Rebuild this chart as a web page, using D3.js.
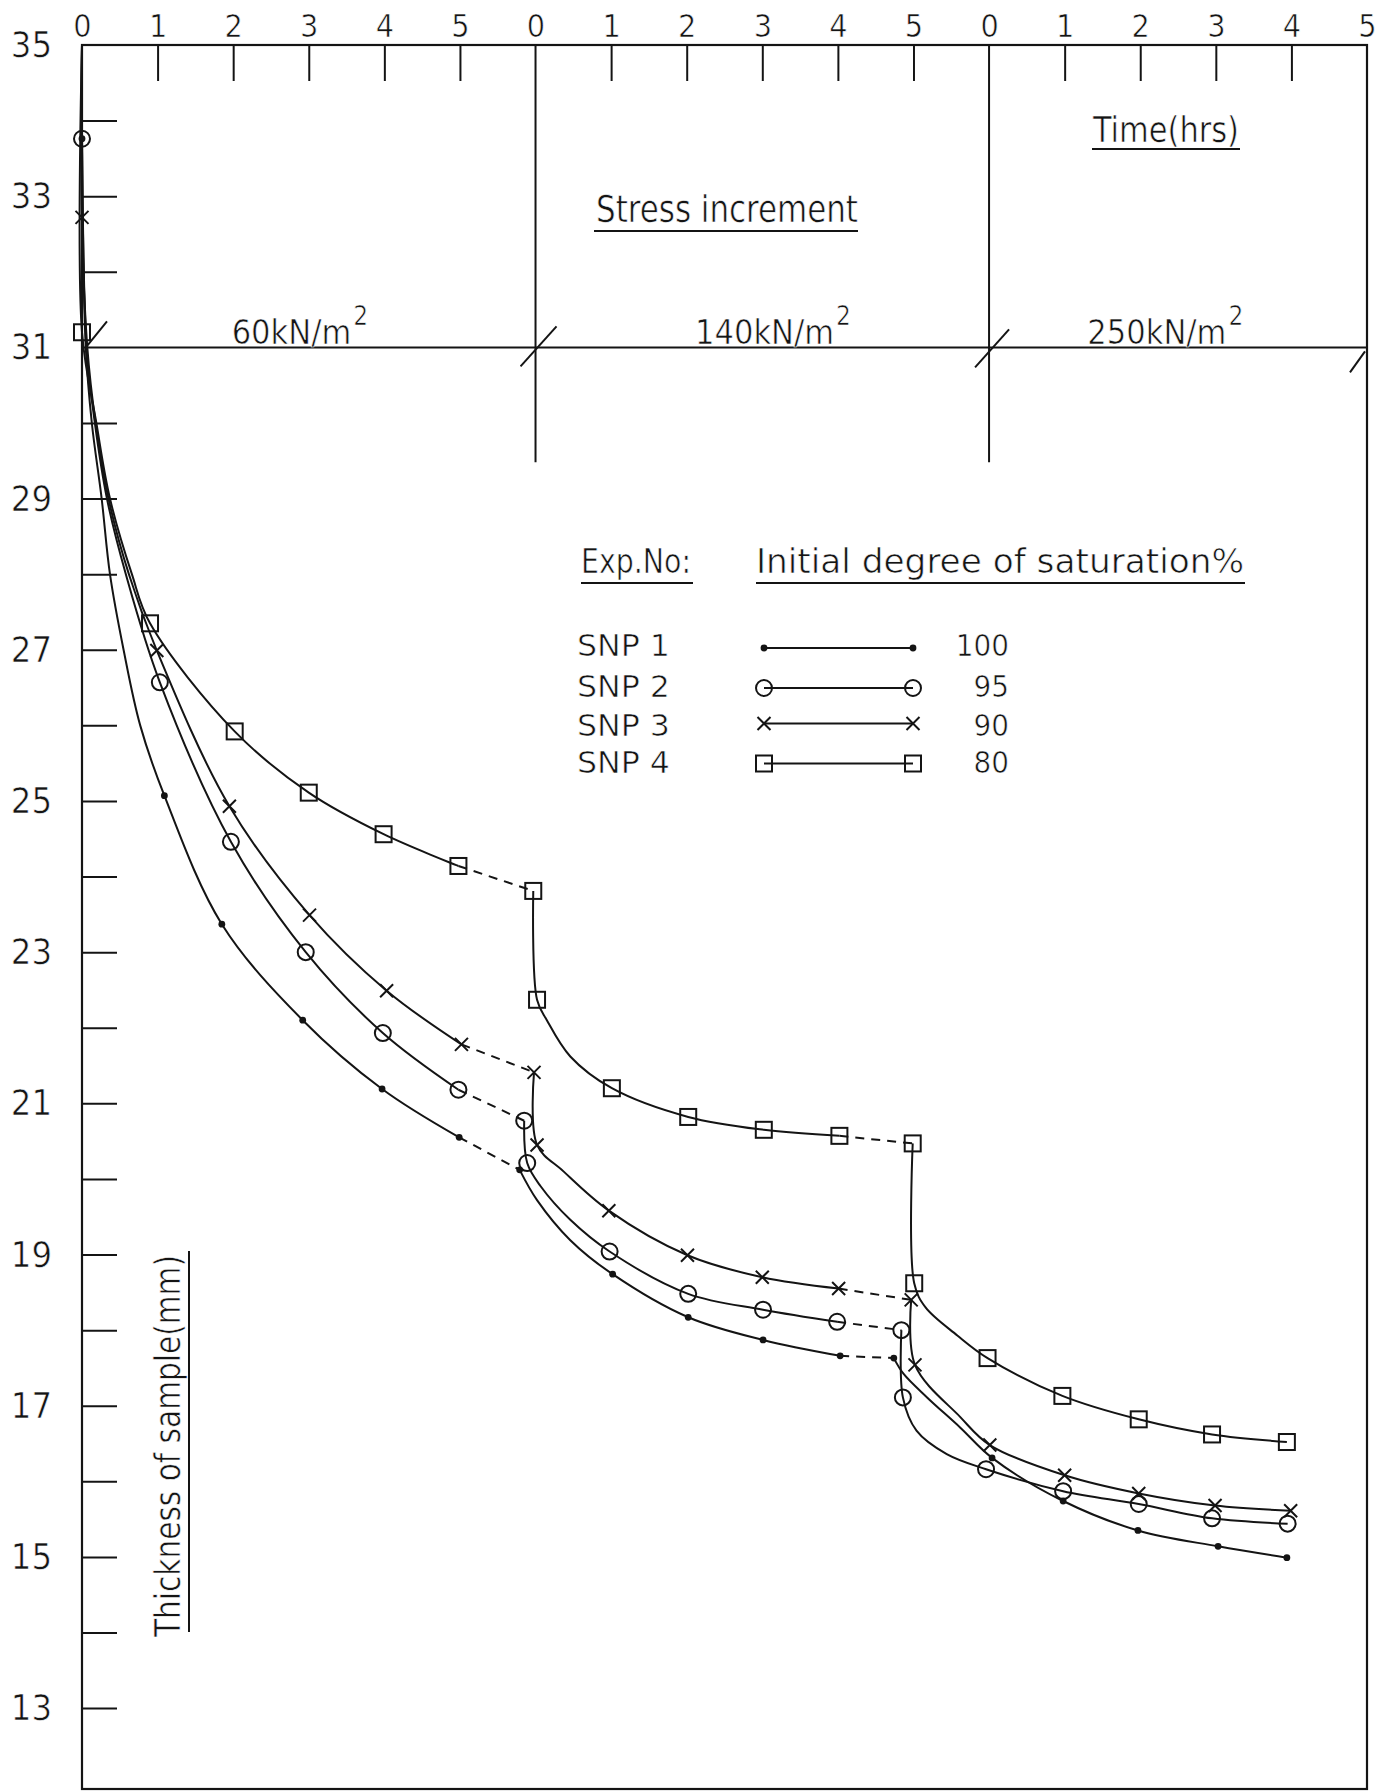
<!DOCTYPE html>
<html>
<head>
<meta charset="utf-8">
<script src="https://cdn.jsdelivr.net/npm/d3@7"></script>
<style>
  html, body { margin: 0; padding: 0; background: #ffffff; }
  svg { display: block; }
  text {
    font-family: "DejaVu Sans Condensed", "Liberation Sans Narrow", sans-serif;
    fill: #141414;
    stroke: #ffffff; stroke-width: 0.6px; paint-order: fill stroke;
  }
</style>
</head>
<body>
<svg id="chart" width="1390" height="1792"></svg>
<script>
// ---- Data -----------------------------------------------------------------

// Top axis: three 5-hour load stages laid end to end (chart position 0..17).
const hourLabels = ["0","1","2","3","4","5","0","1","2","3","4","5","0","1","2","3","4","5"];
const stageStarts = [0, 6, 12];
const stressIncrements = ["60", "140", "250"];

// Left axis: sample thickness (mm).
const thicknessLabels = [35, 33, 31, 29, 27, 25, 23, 21, 19, 17, 15, 13];
const thicknessTicks = d3.range(13, 36);

// Legend entries.
const experiments = ["SNP 1", "SNP 2", "SNP 3", "SNP 4"];
const saturation = [100, 95, 90, 80];
const markerShapes = ["dot", "circle", "cross", "square"];

// Readings: [chart position (hrs), thickness (mm), marker drawn 1/0, dashed from previous point 1/0]
const snp1 = [
  [0, 35, 0, 0], [0, 33.76, 1, 0], [0.05, 31.0, 0, 0], [0.13, 30.0, 0, 0], [0.26, 29.0, 0, 0],
  [0.37, 28.0, 0, 0], [0.55, 27.0, 0, 0], [0.77, 26.0, 0, 0], [1.09, 25.07, 1, 0],
  [1.85, 23.37, 1, 0], [2.92, 22.10, 1, 0], [3.97, 21.19, 1, 0], [4.99, 20.55, 1, 0],
  [5.79, 20.12, 1, 1], [6.02, 19.72, 0, 0], [6.46, 19.19, 0, 0], [7.02, 18.74, 1, 0],
  [8.02, 18.17, 1, 0], [9.01, 17.87, 1, 0], [10.03, 17.66, 1, 0],
  [10.74, 17.63, 1, 1], [10.87, 17.42, 0, 0], [11.18, 17.11, 0, 0], [11.62, 16.71, 0, 0],
  [12.04, 16.31, 1, 0], [12.98, 15.74, 1, 0], [13.97, 15.35, 1, 0], [15.03, 15.14, 1, 0],
  [15.94, 14.99, 1, 0]
];
const snp2 = [
  [0, 35, 0, 0], [0, 33.76, 1, 0], [0.06, 31.0, 0, 0], [0.17, 30.0, 0, 0], [0.33, 29.0, 0, 0],
  [0.58, 28.0, 0, 0], [1.03, 26.57, 1, 0], [1.97, 24.46, 1, 0], [2.96, 23.0, 1, 0],
  [3.98, 21.93, 1, 0], [4.98, 21.18, 1, 0],
  [5.85, 20.77, 1, 1], [5.89, 20.21, 1, 0], [6.07, 19.9, 0, 0], [6.46, 19.46, 0, 0],
  [6.98, 19.04, 1, 0], [8.02, 18.48, 1, 0], [9.01, 18.27, 1, 0], [9.99, 18.11, 1, 0],
  [10.84, 18.0, 1, 1], [10.86, 17.11, 1, 0], [11.04, 16.67, 0, 0], [11.44, 16.36, 0, 0],
  [11.96, 16.16, 1, 0], [12.98, 15.87, 1, 0], [13.98, 15.70, 1, 0], [14.95, 15.51, 1, 0],
  [15.95, 15.44, 1, 0]
];
const snp3 = [
  [0, 35, 0, 0], [0, 32.72, 1, 0], [0.07, 31.0, 0, 0], [0.18, 30.0, 0, 0], [0.35, 29.0, 0, 0],
  [0.62, 28.0, 0, 0], [0.99, 26.99, 1, 0], [1.95, 24.93, 1, 0], [3.01, 23.49, 1, 0],
  [4.03, 22.49, 1, 0], [5.02, 21.78, 1, 0],
  [5.98, 21.41, 1, 1], [6.02, 20.45, 1, 0], [6.37, 20.1, 0, 0], [6.97, 19.58, 1, 0],
  [8.01, 18.99, 1, 0], [9.0, 18.70, 1, 0], [10.01, 18.55, 1, 0],
  [10.97, 18.40, 1, 1], [11.02, 17.54, 1, 0], [11.62, 16.85, 0, 0], [12.01, 16.48, 1, 0],
  [13.0, 16.08, 1, 0], [13.98, 15.84, 1, 0], [14.99, 15.68, 1, 0], [15.99, 15.61, 1, 0]
];
const snp4 = [
  [0, 35, 0, 0], [0, 31.2, 1, 0], [0.19, 30.0, 0, 0], [0.37, 29.0, 0, 0], [0.66, 28.0, 0, 0],
  [0.90, 27.35, 1, 0], [2.02, 25.92, 1, 0], [3.0, 25.11, 1, 0], [3.99, 24.56, 1, 0],
  [4.98, 24.14, 1, 0],
  [5.97, 23.81, 1, 1], [6.02, 22.37, 1, 0], [6.15, 22.1, 0, 0], [6.46, 21.62, 0, 0],
  [7.01, 21.2, 1, 0], [8.02, 20.82, 1, 0], [9.02, 20.65, 1, 0], [10.02, 20.57, 1, 0],
  [10.99, 20.47, 1, 1], [11.01, 18.62, 1, 0], [11.16, 18.30, 0, 0], [11.58, 17.93, 0, 0],
  [11.98, 17.63, 1, 0], [12.97, 17.13, 1, 0], [13.98, 16.82, 1, 0], [14.95, 16.62, 1, 0],
  [15.94, 16.52, 1, 0]
];
const seriesList = [snp1, snp2, snp3, snp4];

// ---- Layout ---------------------------------------------------------------
const INK = "#141414";
const svg = d3.select("#chart");
svg.append("rect").attr("width", 1390).attr("height", 1792).attr("fill", "#ffffff");

const x = d3.scaleLinear().domain([0, 17]).range([82, 1367]);
const y = d3.scaleLinear().domain([35, 11.93]).range([45, 1789]);

// Frame
svg.append("rect")
  .attr("x", x(0)).attr("y", y(35))
  .attr("width", x(17) - x(0)).attr("height", y(11.93) - y(35))
  .attr("fill", "none").attr("stroke", INK).attr("stroke-width", 2.2);

// Stage reference line at 31 mm and stage dividers
svg.append("line")
  .attr("x1", x(0)).attr("x2", x(17)).attr("y1", y(31)).attr("y2", y(31))
  .attr("stroke", INK).attr("stroke-width", 2);
stageStarts.slice(1).forEach(s => {
  svg.append("line")
    .attr("x1", x(s)).attr("x2", x(s)).attr("y1", y(35)).attr("y2", y(29.48))
    .attr("stroke", INK).attr("stroke-width", 2);
});

// Small slash marks where each stage boundary meets the 31 mm line
const slashes = [
  { at: 0,  d: [[3, 1], [25, -26]] },
  { at: 6,  d: [[-15, 19], [21, -21]] },
  { at: 12, d: [[-14, 20], [20, -18]] },
  { at: 17, d: [[-17, 25], [-2, 4]] }
];
slashes.forEach(s => {
  const cx = x(s.at), cy = y(31);
  svg.append("line")
    .attr("x1", cx + s.d[0][0]).attr("y1", cy + s.d[0][1])
    .attr("x2", cx + s.d[1][0]).attr("y2", cy + s.d[1][1])
    .attr("stroke", INK).attr("stroke-width", 2);
});

// Top time axis (ticks hang inside the frame)
const topAxis = svg.append("g")
  .attr("transform", `translate(0,${y(35)})`)
  .call(d3.axisTop(x).tickValues(d3.range(0, 18)).tickFormat(i => hourLabels[i])
    .tickSize(-36).tickPadding(8));
topAxis.attr("font-family", null).attr("font-size", null).style("color", INK);
topAxis.select(".domain").remove();
topAxis.selectAll(".tick line").filter(d => stageStarts.includes(d) || d === 17).remove();
topAxis.selectAll(".tick line").attr("stroke-width", 2);
topAxis.selectAll(".tick text").style("font-size", "32px");

// Left thickness axis (ticks point into the frame)
const leftAxis = svg.append("g")
  .attr("transform", `translate(${x(0)},0)`)
  .call(d3.axisLeft(y).tickValues(thicknessTicks)
    .tickFormat(v => thicknessLabels.includes(v) ? v : "")
    .tickSize(-35).tickPadding(30));
leftAxis.attr("font-family", null).attr("font-size", null).style("color", INK);
leftAxis.select(".domain").remove();
leftAxis.selectAll(".tick line").filter(d => d === 31 || d === 35).remove();
leftAxis.selectAll(".tick line").attr("stroke-width", 2);
leftAxis.selectAll(".tick text").style("font-size", "36px");

// ---- Text helpers ---------------------------------------------------------
function label(str, px, py, size, opts = {}) {
  const t = svg.append("text")
    .attr("x", px).attr("y", py)
    .attr("font-size", size)
    .attr("text-anchor", opts.anchor || "start")
    .text(str);
  if (opts.length) t.attr("textLength", opts.length).attr("lengthAdjust", "spacingAndGlyphs");
  if (opts.transform) t.attr("transform", opts.transform);
  return t;
}
function rule(x1, y1, x2, y2) {
  svg.append("line").attr("x1", x1).attr("y1", y1).attr("x2", x2).attr("y2", y2)
    .attr("stroke", INK).attr("stroke-width", 2);
}

// Stress increment labels, one per stage (unit with a raised exponent)
const stressLabelAt = [1.98, 8.11, 13.3];
stressIncrements.forEach((s, i) => {
  const x0 = x(stressLabelAt[i]);
  const t = label(`${s}kN/m`, x0, y(31) - 3, 34);
  const w = t.node().getComputedTextLength();
  label("2", x0 + w + 2, y(31) - 22, 26);
});

// Headings
label("Stress increment", 596, 222, 38, { length: 262 });
rule(594, 231, 858, 231);
label("Time(hrs)", 1093, 142, 36, { length: 146 });
rule(1092, 149, 1240, 149);

// Legend
label("Exp.No:", 581, 573, 34, { length: 110 });
rule(581, 583, 693, 583);
label("Initial degree of saturation%", 756, 573, 34, { length: 488 });
rule(756, 583, 1245, 583);

const legendBase = [656, 697, 736, 773];
const legendLineY = [648, 688, 723.5, 763.5];
const legendX0 = 764, legendX1 = 913;

// ---- Markers --------------------------------------------------------------
function marker(g, shape, cx, cy) {
  if (shape === "dot") {
    g.append("circle").attr("cx", cx).attr("cy", cy).attr("r", 3.4).attr("fill", INK);
  } else if (shape === "circle") {
    g.append("circle").attr("cx", cx).attr("cy", cy).attr("r", 8)
      .attr("fill", "none").attr("stroke", INK).attr("stroke-width", 2);
  } else if (shape === "cross") {
    const h = 6.5;
    g.append("path")
      .attr("d", `M${cx - h},${cy - h}L${cx + h},${cy + h}M${cx - h},${cy + h}L${cx + h},${cy - h}`)
      .attr("stroke", INK).attr("stroke-width", 2).attr("fill", "none");
  } else {
    g.append("rect").attr("x", cx - 8).attr("y", cy - 8).attr("width", 16).attr("height", 16)
      .attr("fill", "none").attr("stroke", INK).attr("stroke-width", 2);
  }
}

experiments.forEach((name, i) => {
  label(name, 577, legendBase[i], 31, { length: 93 });
  label(String(saturation[i]), 1009, legendBase[i], 31, { anchor: "end" });
  const g = svg.append("g");
  g.append("line").attr("x1", legendX0).attr("x2", legendX1)
    .attr("y1", legendLineY[i]).attr("y2", legendLineY[i])
    .attr("stroke", INK).attr("stroke-width", 2);
  marker(g, markerShapes[i], legendX0, legendLineY[i]);
  marker(g, markerShapes[i], legendX1, legendLineY[i]);
});

// Y-axis title
label("Thickness of sample(mm)", 180, 1637, 36, { length: 382, transform: "rotate(-90,180,1637)" });
rule(189, 1251, 189, 1632);

// ---- Curves ---------------------------------------------------------------
function splitRuns(points) {
  const runs = [];
  let cur = { dashed: false, pts: [points[0]] };
  for (let i = 1; i < points.length; i++) {
    const dashed = points[i][3] === 1;
    if (dashed !== cur.dashed) {
      runs.push(cur);
      cur = { dashed, pts: [points[i - 1]] };
    }
    cur.pts.push(points[i]);
  }
  runs.push(cur);
  return runs;
}

const smooth = d3.line().x(d => x(d[0])).y(d => y(d[1])).curve(d3.curveCatmullRom.alpha(0.5));
const straight = d3.line().x(d => x(d[0])).y(d => y(d[1]));

const curveLayer = svg.append("g");
seriesList.forEach((series, i) => {
  splitRuns(series).forEach(run => {
    curveLayer.append("path")
      .attr("d", run.dashed ? straight(run.pts) : smooth(run.pts))
      .attr("fill", "none").attr("stroke", INK).attr("stroke-width", 2)
      .attr("stroke-dasharray", run.dashed ? "9,7" : null);
  });
  const mg = svg.append("g");
  series.filter(p => p[2] === 1).forEach(p => marker(mg, markerShapes[i], x(p[0]), y(p[1])));
});
</script>
</body>
</html>
